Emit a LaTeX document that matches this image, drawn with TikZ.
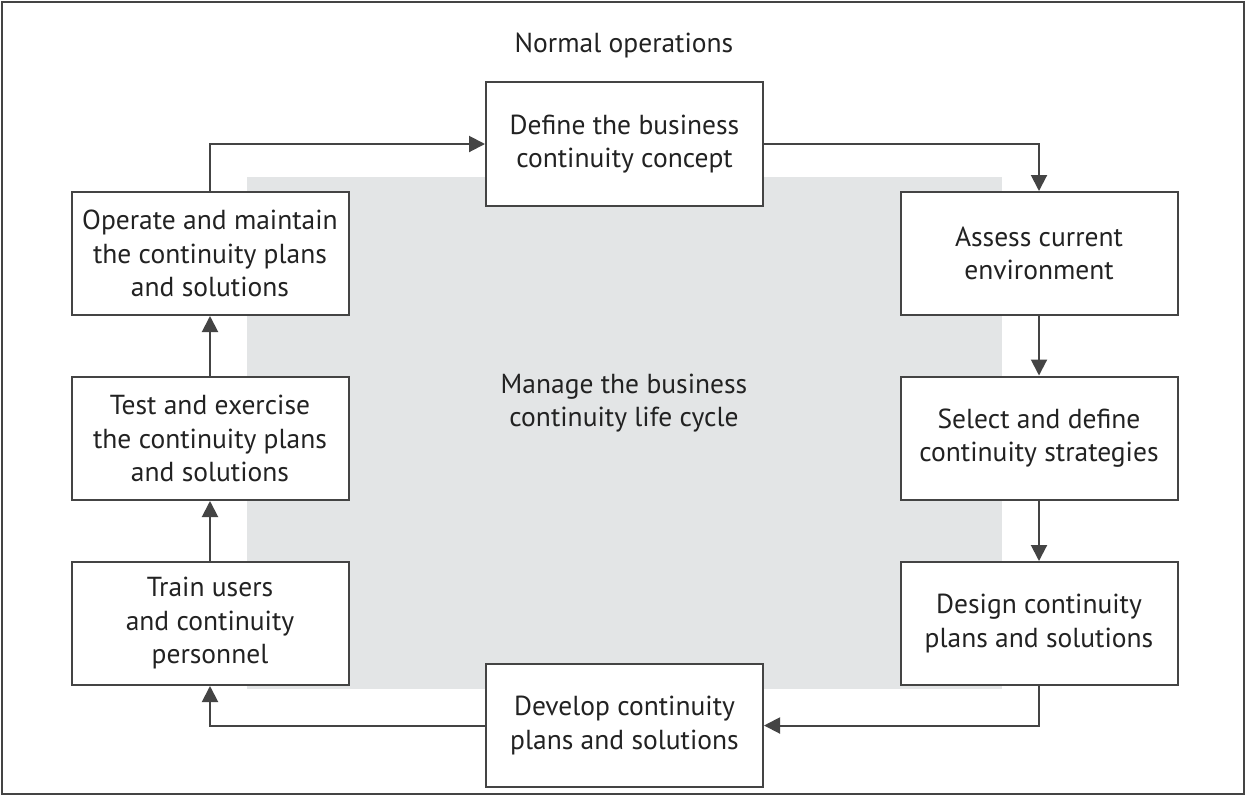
\documentclass[tikz,border=0pt]{standalone}
\usepackage{fontspec}
\setmainfont{PT Sans}
\usetikzlibrary{arrows.meta}
\definecolor{linegray}{HTML}{444444}
\definecolor{bandgray}{HTML}{E3E5E6}
\definecolor{textgray}{HTML}{222222}
\begin{document}
\begin{tikzpicture}[x=1pt,y=-1pt,
  stepbox/.style={draw=linegray, line width=2pt, fill=white, minimum width=277pt, minimum height=123pt, align=center, inner sep=0pt, text=textgray, font=\fontsize{27.5}{33.5}\selectfont},
  flow/.style={draw=linegray, line width=2pt, -{Triangle[length=16pt,width=16pt]}},
  plain/.style={font=\fontsize{27.5}{33.5}\selectfont, text=textgray, align=center}
]
\useasboundingbox (0,0) rectangle (1247,796);
\draw[draw=linegray, line width=2.5pt, fill=white] (2,2) rectangle (1244,794);
\fill[bandgray] (247,177) rectangle (1002,689);

\node[plain] (title) at (624,45) {Normal operations};
\node[plain] (center) at (624,403) {Manage the business\\continuity life cycle};

\node[stepbox, minimum height=124pt] (define) at (624.5,144) {Define the business\\continuity concept};
\node[stepbox] (assess) at (1039,253.5) {Assess current\\environment};
\node[stepbox] (select) at (1039,438) {Select and define\\continuity strategies};
\node[stepbox] (design) at (1039,623.5) {Design continuity\\plans and solutions};
\node[stepbox] (develop) at (624.5,725.5) {Develop continuity\\plans and solutions};
\node[stepbox] (train) at (210,623.5) {Train users\\and continuity\\personnel};
\node[stepbox] (test) at (210,438.5) {Test and exercise\\the continuity plans\\and solutions};
\node[stepbox] (operate) at (210,253.5) {Operate and maintain\\the continuity plans\\and solutions};

\draw[flow] (define.east) -| (assess.north);
\draw[flow] (assess.south) -- (select.north);
\draw[flow] (select.south) -- (design.north);
\draw[flow] (design.south) |- (develop.east);
\draw[flow] (develop.west) -| (train.south);
\draw[flow] (train.north) -- (test.south);
\draw[flow] (test.north) -- (operate.south);
\draw[flow] (operate.north) |- (define.west);
\end{tikzpicture}
\end{document}
